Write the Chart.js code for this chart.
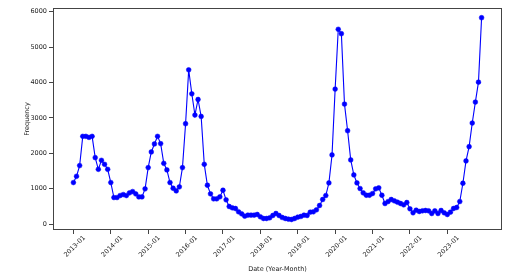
<!DOCTYPE html>
<html>
<head>
<meta charset="utf-8">
<script src="https://cdn.jsdelivr.net/npm/chart.js@4"></script>
<style>
  body { margin: 0; background: #fff; }
  canvas { display: block; }
</style>
</head>
<body>
<canvas id="freqChart" width="520" height="279"></canvas>
<script>
// Months from 2013-01 to 2023-12
const startYear = 2013;
const months = [];
for (let y = startYear; y <= 2023; y++) {
  for (let m = 1; m <= 12; m++) {
    months.push(y + "-" + String(m).padStart(2, "0"));
  }
}

// Monthly frequency
const frequency = [
  1175, 1352, 1654, 2480, 2480, 2451, 2480, 1879, 1549, 1803, 1690, 1549,
  1175, 752, 752, 808, 836, 808, 884, 921, 856, 770, 770, 997,
  1597, 2039, 2265, 2480, 2275, 1718, 1532, 1175, 1014, 940, 1053, 1597,
  2837, 4358, 3682, 3082, 3521, 3042, 1690, 1099, 856, 715, 715, 771,
  958, 687, 499, 461, 442, 349, 292, 225, 255, 255, 255, 273,
  208, 160, 160, 180, 245, 301, 245, 189, 160, 141, 132, 160,
  198, 217, 255, 245, 339, 349, 405, 527, 696, 808, 1165, 1955,
  3814, 5504, 5380, 3391, 2639, 1814, 1391, 1165, 1006, 884, 817, 817,
  865, 997, 1025, 817, 583, 639, 696, 658, 620, 583, 546, 611,
  434, 321, 394, 358, 377, 386, 377, 301, 377, 301, 386, 321,
  273, 339, 442, 470, 639, 1155, 1786, 2189, 2856, 3448, 4011, 5831,
];

// Tick labels shown on the x axis (every January)
const xTickLabels = [
  "2013-01", "2014-01", "2015-01", "2016-01", "2017-01", "2018-01",
  "2019-01", "2020-01", "2021-01", "2022-01", "2023-01",
];
const yTickValues = [0, 1000, 2000, 3000, 4000, 5000, 6000];

const points = frequency.map((v, i) => ({ x: i, y: v }));
const n = frequency.length - 1;
const xPad = n * 0.05;

const textColor = "#222";
const tickFont = { family: "DejaVu Sans", size: 6.5 };

// draw the full box around the plot like matplotlib
const frameBox = {
  id: "frameBox",
  afterDraw(chart) {
    const { ctx, chartArea: a } = chart;
    ctx.save();
    ctx.strokeStyle = "#444";
    ctx.lineWidth = 1;
    ctx.strokeRect(a.left + 0.5, a.top + 0.5, a.right - a.left - 1, a.bottom - a.top - 1);
    ctx.restore();
  },
};

const ctx = document.getElementById("freqChart").getContext("2d");
new Chart(ctx, {
  type: "line",
  data: {
    datasets: [
      {
        label: "Frequency",
        data: points,
        borderColor: "#0000ff",
        backgroundColor: "#0000ff",
        borderWidth: 1.1,
        pointRadius: 2.4,
        pointBorderWidth: 0.5,
        pointBackgroundColor: "#0000ff",
        pointBorderColor: "#0000ff",
        tension: 0,
        fill: false,
      },
    ],
  },
  options: {
    responsive: false,
    animation: false,
    layout: { padding: { left: 0, right: 18, top: 8, bottom: 4 } },
    plugins: {
      legend: { display: false },
      tooltip: { enabled: false },
    },
    scales: {
      x: {
        type: "linear",
        min: -xPad,
        max: n + xPad,
        afterFit(scale) {
          scale.height = 45;
        },
        afterBuildTicks(scale) {
          scale.ticks = xTickLabels.map((_, k) => ({ value: k * 12 }));
        },
        border: { display: false },
        grid: {
          display: true,
          drawOnChartArea: false,
          drawTicks: true,
          tickLength: 4,
          tickColor: "#444",
        },
        ticks: {
          minRotation: 45,
          maxRotation: 45,
          padding: 0,
          labelOffset: 11,
          color: textColor,
          font: tickFont,
          callback: (v) => months[v],
        },
        title: {
          display: true,
          text: "Date (Year-Month)",
          color: textColor,
          font: tickFont,
          padding: { top: 0, bottom: 2 },
        },
      },
      y: {
        min: -165,
        max: 6105,
        afterFit(scale) {
          scale.width = 53;
        },
        afterBuildTicks(scale) {
          scale.ticks = yTickValues.map((v) => ({ value: v }));
        },
        border: { display: false },
        grid: {
          display: true,
          drawOnChartArea: false,
          drawTicks: true,
          tickLength: 4,
          tickColor: "#444",
        },
        ticks: {
          padding: 2,
          color: textColor,
          font: tickFont,
          callback: (v) => String(v),
        },
        title: {
          display: true,
          text: "Frequency",
          color: textColor,
          font: tickFont,
          padding: { top: 23, bottom: 0 },
        },
      },
    },
  },
  plugins: [frameBox],
});
</script>
</body>
</html>
